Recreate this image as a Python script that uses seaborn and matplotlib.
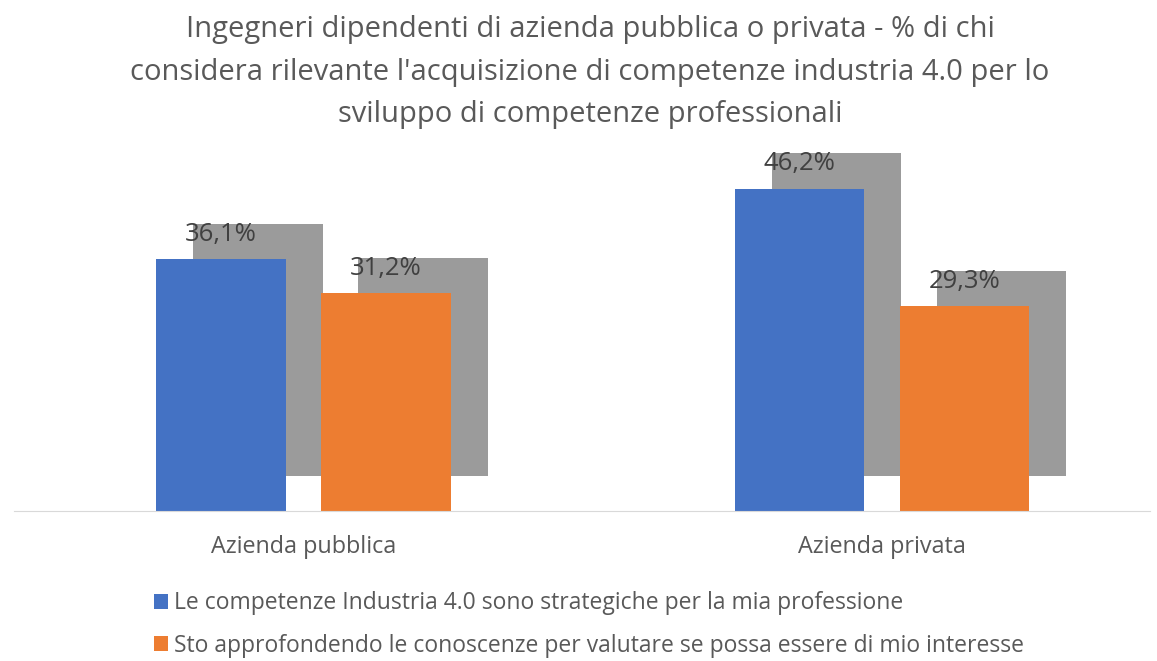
import matplotlib
matplotlib.use("Agg")
import matplotlib.pyplot as plt
import matplotlib.patheffects as pe
from matplotlib.patches import Patch
import pandas as pd
import seaborn as sns

# Data
categories = ["Azienda pubblica", "Azienda privata"]
series_names = [
    "Le competenze Industria 4.0 sono strategiche per la mia professione",
    "Sto approfondendo le conoscenze per valutare se possa essere di mio interesse",
]
strategic = [36.1, 46.2]
exploring = [31.2, 29.3]
colors = ["#4472C4", "#ED7D31"]
title = ("Ingegneri dipendenti di azienda pubblica o privata - % di chi\n"
         "considera rilevante l'acquisizione di competenze industria 4.0 per lo\n"
         "sviluppo di competenze professionali")

df = pd.DataFrame({
    "Tipo": categories * 2,
    "Serie": [series_names[0]] * 2 + [series_names[1]] * 2,
    "Valore": strategic + exploring,
})

sns.set_style("white")
plt.rcParams['font.family'] = ['Open Sans', 'DejaVu Sans']
text_col = "#595959"

fig = plt.figure(figsize=(11.57, 6.61), dpi=100)
ax = fig.add_axes([14 / 1157, (661 - 511) / 661, (1150 - 14) / 1157, (511 - 150) / 661])

sns.barplot(data=df, x="Tipo", y="Valore", hue="Serie", palette=colors,
            width=0.57, gap=0.214, saturation=1, ax=ax, legend=False)

# drop shadow behind each bar
shadow = [pe.SimplePatchShadow(offset=(26.5, 25.5), shadow_rgbFace="#9b9b9b", alpha=1.0),
          pe.Normal()]
for p in ax.patches:
    p.set_path_effects(shadow)
    p.set_linewidth(0)

for cont in ax.containers:
    ax.bar_label(cont, labels=[f"{v:.1f}%".replace(".", ",") for v in cont.datavalues],
                 padding=9, fontsize=18.5, color="#404040", zorder=5)

ax.set_xlim(-0.5004, 1.463)
ax.set_ylim(0, (511 - 150) / 6.98)
ax.set_xlabel("")
ax.set_ylabel("")
ax.set_yticks([])
sns.despine(ax=ax, left=True)
ax.spines["bottom"].set_color("#d9d9d9")
ax.tick_params(axis="x", length=0, pad=17, labelsize=16.8, labelcolor=text_col)

handles = [Patch(facecolor=c, edgecolor="none") for c in colors]
fig.legend(handles, series_names, loc="upper left", bbox_to_anchor=(143 / 1157, 1 - 580 / 661),
           frameon=False, fontsize=16.5, labelcolor=text_col, handlelength=0.6,
           handleheight=0.6, handletextpad=0.25, labelspacing=0.8, borderpad=0)

fig.text(0.51, 1 - 15 / 661, title, ha="center", va="top", fontsize=21,
         color=text_col, linespacing=1.62)

fig.savefig("out.png", dpi=100)
